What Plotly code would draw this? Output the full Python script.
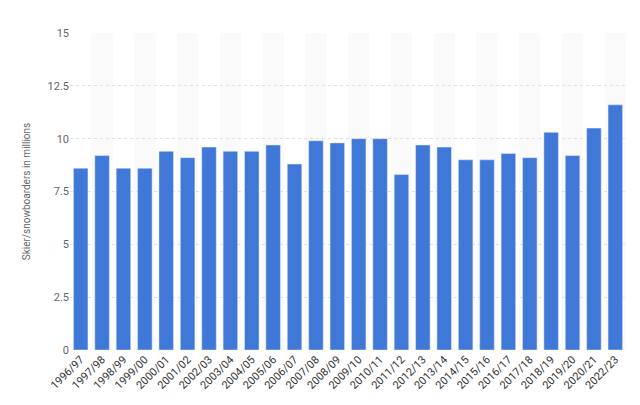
import plotly.graph_objects as go

seasons = ["1996/97", "1997/98", "1998/99", "1999/00", "2000/01", "2001/02", "2002/03",
           "2003/04", "2004/05", "2005/06", "2006/07", "2007/08", "2008/09", "2009/10",
           "2010/11", "2011/12", "2012/13", "2013/14", "2014/15", "2015/16", "2016/17",
           "2017/18", "2018/19", "2019/20", "2020/21", "2022/23"]
visits = [8.6, 9.2, 8.6, 8.6, 9.4, 9.1, 9.6, 9.4, 9.4, 9.7, 8.8, 9.9, 9.8, 10.0,
          10.0, 8.3, 9.7, 9.6, 9.0, 9.0, 9.3, 9.1, 10.3, 9.2, 10.5, 11.6]

fig = go.Figure()
# alternating column shading
for i in range(1, len(seasons), 2):
    fig.add_vrect(x0=i - 0.5, x1=i + 0.5, fillcolor="#fafafa", line_width=0, layer="below")

fig.add_trace(go.Bar(x=list(range(len(seasons))), y=visits, marker_color="#4078d8", width=0.68))
fig.update_layout(
    autosize=True, plot_bgcolor="white", paper_bgcolor="white",
    margin=dict(l=62, r=6, t=25, b=47), showlegend=False,
    font=dict(family="Roboto, Arial", size=11, color="#666"),
)
fig.update_xaxes(tickmode="array", tickvals=list(range(len(seasons))), ticktext=seasons,
                 tickangle=-45, range=[-0.5, len(seasons) - 0.5], showgrid=False,
                 tickfont=dict(size=11, color="#333"))
fig.update_yaxes(range=[0, 15], tickvals=[0, 2.5, 5, 7.5, 10, 12.5, 15],
                 ticktext=["0", "2.5", "5", "7.5", "10", "12.5", "15"],
                 gridcolor="#e0e0e0", griddash="dot", zeroline=False,
                 title=dict(text="Skier/snowboarders in millions", font=dict(size=10, color="#666")),
                 tickfont=dict(color="#666"))
fig.write_html("out.html", default_width="100%", default_height="100%")
